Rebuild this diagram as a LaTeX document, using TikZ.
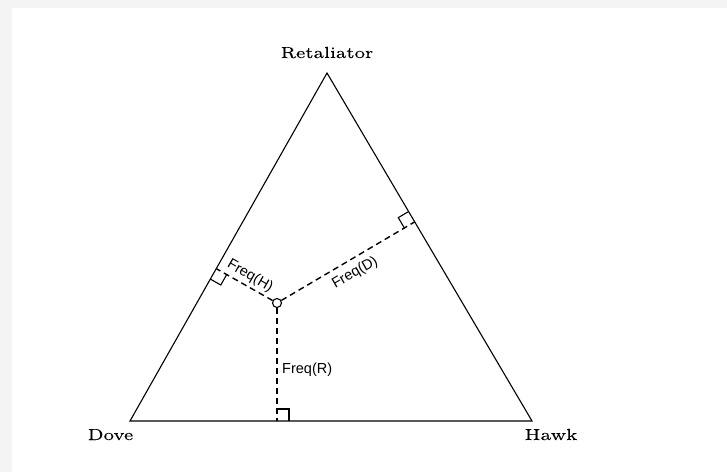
\documentclass[tikz,border=0pt]{standalone}
\usepackage{fontspec}
\newfontfamily\freqfont{Liberation Sans}
\newfontfamily\vertexfont{lmroman7-regular.otf}[FakeBold=0.15]
\usetikzlibrary{calc}
\begin{document}
\begin{tikzpicture}[x=1pt,y=-1pt,
  side/.style={line width=1.1pt, line join=miter},
  freqline/.style={dash pattern=on 6pt off 4pt, line width=1.4pt},
  rightmark/.style={line width=1.1pt},
  vlabel/.style={font=\vertexfont\fontsize{16}{19}\selectfont, inner sep=0pt},
  flabel/.style={font=\freqfont\fontsize{14.5}{17}\selectfont, inner sep=0pt},
  pointmark/.style={circle, draw, line width=1.1pt, minimum size=9pt, inner sep=0pt, fill=white}]
\fill[gray!9] (0,0) rectangle (727,472);
\fill[white] (12,8) rectangle (727,472);
\useasboundingbox (0,0) rectangle (727,472);

\coordinate (D) at (130,421);
\coordinate (H) at (532,421);
\coordinate (R) at (327,73);
\draw[side] (D) -- (H) -- (R) -- cycle;

\node[pointmark] (P) at (277,303) {};
\coordinate (FR) at ($(D)!(P)!(H)$);
\coordinate (FH) at ($(D)!(P)!(R)$);
\coordinate (FD) at ($(R)!(P)!(H)$);

\draw[freqline] (P) -- (FR);
\draw[freqline] (P) -- (FH);
\draw[freqline] (P) -- (FD);

% right-angle marks
\coordinate (FRa) at ($(FR)!12pt!(H)$);
\coordinate (FRb) at ($(FR)!12pt!(P)$);
\coordinate (FRc) at ($(FRa)+(FRb)-(FR)$);
\draw[rightmark] (FRa) -- (FRc) -- (FRb);

\coordinate (FHa) at ($(FH)!12pt!(D)$);
\coordinate (FHb) at ($(FH)!12pt!(P)$);
\coordinate (FHc) at ($(FHa)+(FHb)-(FH)$);
\draw[rightmark] (FHa) -- (FHc) -- (FHb);

\coordinate (FDa) at ($(FD)!12pt!(R)$);
\coordinate (FDb) at ($(FD)!12pt!(P)$);
\coordinate (FDc) at ($(FDa)+(FDb)-(FD)$);
\draw[rightmark] (FDa) -- (FDc) -- (FDb);

% labels
\node[flabel, anchor=base west] (LR) at (282,373) {Freq(R)};
\node[flabel, rotate=-30] (LH) at (250,276) {Freq(H)};
\node[flabel, rotate=30] (LD) at (355,273) {Freq(D)};

\node[vlabel, anchor=base] (LRet) at (327,58) {\scalebox{1.15}[1]{Retaliator}};
\node[vlabel, anchor=base] (LDove) at (110.5,440) {\scalebox{1.15}[1]{Dove}};
\node[vlabel, anchor=base] (LHawk) at (551,440) {\scalebox{1.18}[1]{Hawk}};
\end{tikzpicture}
\end{document}
